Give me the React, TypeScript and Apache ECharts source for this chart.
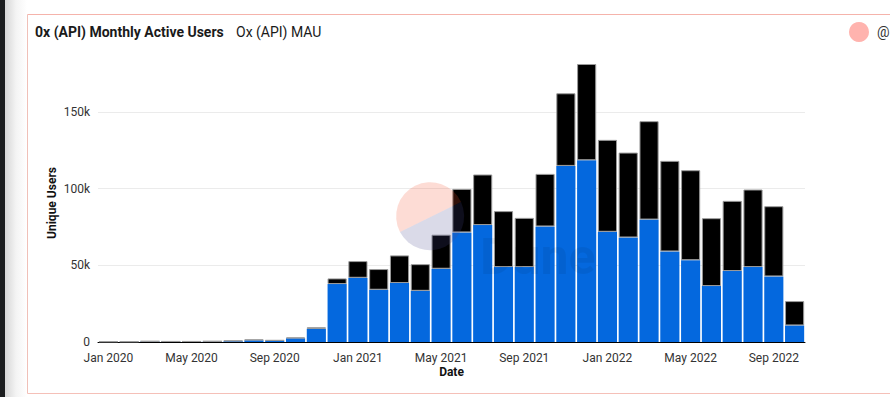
import React, { useEffect, useRef } from "react";
import * as echarts from "echarts";

const categories: string[] = [
  "Jan 2020", "Feb 2020", "Mar 2020", "Apr 2020", "May 2020", "Jun 2020",
  "Jul 2020", "Aug 2020", "Sep 2020", "Oct 2020", "Nov 2020", "Dec 2020",
  "Jan 2021", "Feb 2021", "Mar 2021", "Apr 2021", "May 2021", "Jun 2021",
  "Jul 2021", "Aug 2021", "Sep 2021", "Oct 2021", "Nov 2021", "Dec 2021",
  "Jan 2022", "Feb 2022", "Mar 2022", "Apr 2022", "May 2022", "Jun 2022",
  "Jul 2022", "Aug 2022", "Sep 2022", "Oct 2022",
];

// blue (lower) segment
const blueUsers: number[] = [
  100, 100, 400, 300, 300, 400, 600, 1200, 900, 2400, 8600, 37800,
  41900, 34100, 38500, 33400, 47800, 71500, 76300, 48900, 48900, 75400, 114900, 118600,
  71900, 68200, 79900, 59100, 53400, 36500, 46300, 48900, 42800, 10800,
];

// black (upper) segment
const blackUsers: number[] = [
  200, 200, 100, 100, 100, 100, 300, 400, 300, 600, 1000, 3700,
  10900, 13500, 18000, 17400, 22200, 28400, 33000, 36500, 32100, 34300, 47400, 62800,
  60000, 55400, 64200, 59100, 58700, 44300, 45800, 50600, 45800, 15900,
];

const titleText = "0x (API) Monthly Active Users";
const subtitleText = "Ox (API) MAU";

echarts.graphic.registerShape(
  "dunePink",
  echarts.graphic.extendPath("M400,232 A34,34 0 1,1 461,202 Z", {})
);
echarts.graphic.registerShape(
  "duneLav",
  echarts.graphic.extendPath("M400,232 A34,34 0 0,0 461,202 Z", {})
);

export default function App() {
  const ref = useRef<HTMLDivElement>(null);

  useEffect(() => {
    if (!ref.current) return;
    const chart = echarts.init(ref.current, null, { renderer: "svg" });
    const totals = blueUsers.map((v, i) => v + blackUsers[i]);
    const yMax = Math.max(...totals);
    const font = "Roboto, 'Noto Sans', sans-serif";

    chart.setOption({
      animation: false,
      backgroundColor: "#ffffff",
      textStyle: { fontFamily: font },
      grid: { left: 98, right: 85, top: 64, bottom: 55, containLabel: false },
      xAxis: {
        type: "category",
        data: categories,
        name: "Date",
        nameLocation: "middle",
        nameGap: 24,
        nameMoveOverlap: false,
        nameTextStyle: { fontWeight: "bold", fontSize: 12, color: "#111", fontFamily: font },
        axisLine: { show: true, lineStyle: { color: "#000", width: 1 } },
        axisTick: { show: false },
        axisLabel: {
          interval: 3,
          color: "#333",
          fontSize: 12,
          lineHeight: 13,
          margin: 9,
          fontFamily: font,
        },
      },
      yAxis: {
        type: "value",
        min: 0,
        max: yMax,
        interval: 50000,
        name: "Unique Users",
        nameLocation: "middle",
        nameGap: 40,
        nameMoveOverlap: false,
        nameTextStyle: { fontWeight: "bold", fontSize: 12, color: "#111", fontFamily: font },
        axisLine: { show: false },
        axisTick: { show: false },
        axisLabel: {
          color: "#333",
          fontSize: 12,
          lineHeight: 13,
          margin: 8,
          showMaxLabel: false,
          fontFamily: font,
          formatter: (v: number) => (v === 0 ? "0" : v / 1000 + "k"),
        },
        splitLine: { show: true, showMaxLine: false, lineStyle: { color: "#ebebeb", width: 1 } },
      },
      series: [
        {
          name: "blue",
          type: "bar",
          stack: "users",
          data: blueUsers,
          barCategoryGap: "8%",
          itemStyle: { color: "#0468de", borderColor: "#ffffff", borderWidth: 0 },
        },
        {
          name: "black",
          type: "bar",
          stack: "users",
          data: blackUsers,
          barCategoryGap: "8%",
          itemStyle: { color: "#000000", borderColor: "#9a9a9a", borderWidth: 1 },
        },
      ],
      graphic: [
        {
          type: "rect",
          z: -10,
          shape: { x: 0, y: 0, width: 27, height: 397 },
          style: {
            fill: new echarts.graphic.LinearGradient(0, 0, 1, 0, [
              { offset: 0, color: "#c9c9c9" },
              { offset: 0.6, color: "#f4f4f4" },
              { offset: 1, color: "#ffffff" },
            ]),
          },
          silent: true,
        },
        {
          type: "rect",
          z: -9,
          shape: { x: 0, y: 0, width: 5, height: 397 },
          style: { fill: "#1b1d1f" },
          silent: true,
        },
        {
          type: "line",
          shape: { x1: 27.5, y1: 14.5, x2: 890, y2: 14.5 },
          style: { stroke: "#f5b3ab", lineWidth: 1 },
          silent: true,
        },
        {
          type: "line",
          shape: { x1: 27.5, y1: 14.5, x2: 27.5, y2: 393.5 },
          style: { stroke: "#f0c0b8", lineWidth: 1 },
          silent: true,
        },
        {
          type: "line",
          shape: { x1: 27.5, y1: 393.5, x2: 890, y2: 393.5 },
          style: { stroke: "#f5c0b8", lineWidth: 1 },
          silent: true,
        },
        {
          type: "text",
          x: 35,
          y: 32,
          style: {
            text: titleText,
            font: `bold 14px ${font}`,
            fill: "#1a1a1a",
            verticalAlign: "middle",
          },
        },
        {
          type: "text",
          x: 236,
          y: 32,
          style: {
            text: subtitleText,
            font: `14px ${font}`,
            fill: "#1a1a1a",
            verticalAlign: "middle",
          },
        },
        {
          type: "circle",
          shape: { cx: 859, cy: 32, r: 10 },
          style: { fill: "#ffb3ae" },
          silent: true,
        },
        {
          type: "text",
          x: 877,
          y: 32,
          style: {
            text: "@",
            font: `14px ${font}`,
            fill: "#333",
            verticalAlign: "middle",
          },
        },
        {
          type: "dunePink",
          x: 0,
          y: 0,
          z: 100,
          silent: true,
          style: { fill: "rgba(245,80,45,0.2)" },
        },
        {
          type: "duneLav",
          x: 0,
          y: 0,
          z: 100,
          silent: true,
          style: { fill: "rgba(70,70,140,0.2)" },
        },
        {
          type: "text",
          x: 480,
          y: 232,
          z: 100,
          silent: true,
          style: {
            text: "Dune",
            font: `bold 50px ${font}`,
            fill: "rgba(0,0,0,0.06)",
            verticalAlign: "alphabetic",
          },
        },
      ],
    });

    return () => chart.dispose();
  }, []);

  return (
    <div
      ref={ref}
      style={{ position: "fixed", left: 0, top: 0, width: 890, height: 397 }}
    />
  );
}
